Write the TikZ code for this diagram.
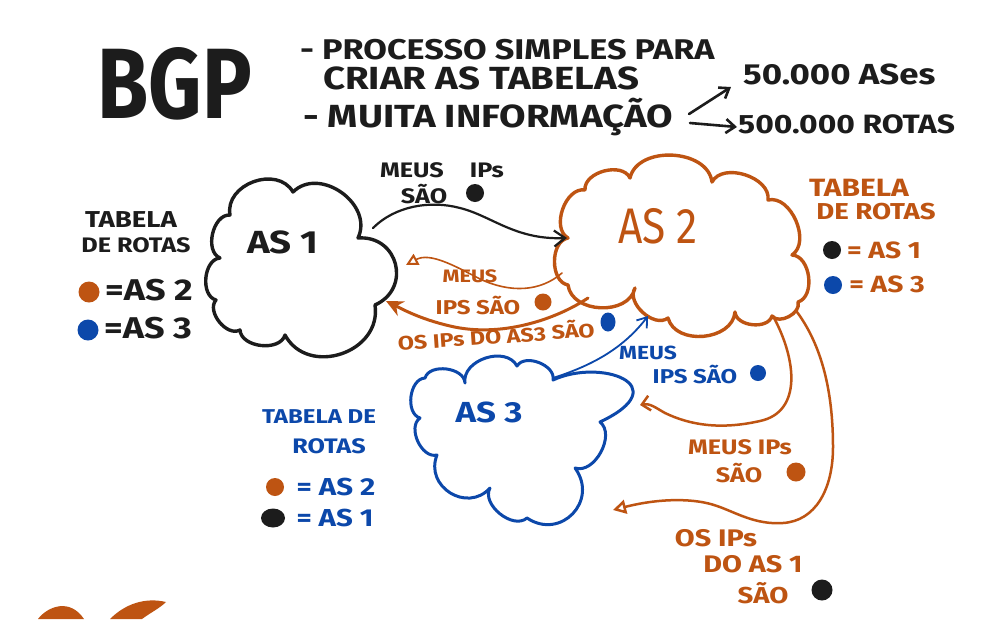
\documentclass[tikz,border=0pt]{standalone}
\usepackage{fontspec}
\setmainfont{Fira Sans}
\newfontfamily\hand[FakeStretch=1.2]{Fira Sans}
\newfontfamily\handn[FakeStretch=0.85]{Fira Sans}
\newfontfamily\handbgp[FakeStretch=0.83]{Fira Sans}
\usetikzlibrary{arrows.meta,shapes.geometric}
\definecolor{cor}{RGB}{190,84,18}
\definecolor{cbl}{RGB}{12,72,170}
\definecolor{cbk}{RGB}{28,28,28}
\newcommand{\hsz}[1]{\fontsize{#1}{#1}\selectfont}
\begin{document}
\begin{tikzpicture}[x=1pt,y=-1pt,
  lab/.style={inner sep=0pt, font=\hand\bfseries\hsz{21}},
  leg/.style={inner sep=0pt, font=\hand\bfseries\hsz{24}},
  head/.style={inner sep=0pt, anchor=west, text=cbk},
  dot/.style={circle, inner sep=0pt, minimum size=17pt},
  cloudline/.style={line width=3.4pt, line join=round, line cap=round},
  conn/.style={line cap=round},
  sc/.style={bend left=80, looseness=#1}, sc/.default=1.1]
\useasboundingbox (0,0) rectangle (987,619);
\fill[white] (0,0) rectangle (987,619);

% ---------- heading ----------
\node[inner sep=0pt, text=cbk, font=\handbgp\bfseries\hsz{100}] (bgp) at (175,84) {BGP};
\node[head, font=\hand\bfseries\hsz{28.5}] (proc) at (300,50) {- PROCESSO SIMPLES PARA};
\node[head, font=\hand\bfseries\hsz{32}] (criar) at (323,78) {CRIAR AS TABELAS};
\node[head, font=\hand\bfseries\hsz{32}] (muita) at (303,117) {- MUITA INFORMAÇÃO};
\node[head, font=\hand\bfseries\hsz{29}] (ases) at (743,74) {50.000 ASes};
\node[head, font=\hand\bfseries\hsz{26.5}] (rotas) at (738,124) {500.000 ROTAS};
\coordinate (h1s) at (689,114);
\coordinate (h1e) at (731,87);
\coordinate (h2s) at (690,123);
\coordinate (h2e) at (737,127);
\draw[cbk, line width=2.6pt, conn, -{Straight Barb[length=9pt,width=13pt]}] (h1s) -- (h1e);
\draw[cbk, line width=2.6pt, conn, -{Straight Barb[length=9pt,width=14pt]}] (h2s) -- (h2e);

% ---------- AS 1 cloud ----------
\draw[cbk, cloudline] (216,300) to[sc=1] (220,258) to[sc=1] (230,215) to[sc=1.2] (293,192)
  to[sc=1.2] (358,238) to[sc=1.5] (375,305) to[sc=1.3] (285,335) to[sc=1] (240,330) to[sc=1] cycle;
\node[inner sep=0pt, text=cbk, font=\hand\bfseries\hsz{32}] (as1) at (283,242) {AS 1};

% ---------- AS 2 cloud ----------
\draw[cor, cloudline] (568,285) to[sc=1] (568,238) to[sc=1] (585,190) to[sc=1] (630,178)
  to[sc=1.05] (712,182) to[sc=1] (768,200) to[sc=1] (792,255) to[sc=1] (798,302)
  to[sc=1] (772,316) to[sc=1] (735,312) to[sc=1.1] (668,318) to[sc=1] (635,288) to[sc=1.1] cycle;
\node[inner sep=0pt, text=cor, font=\handn\hsz{50}] (as2) at (658,226) {AS 2};

% ---------- AS 3 cloud ----------
\draw[cbl, cloudline, line width=3pt] (420,418) to[sc=1] (425,378) to[sc=1] (465,383) to[sc=1.1] (517,366)
  to[sc=1] (553,380) .. controls (600,358) and (678,385) .. (600,422)
  to[sc=1] (575,468) to[sc=1.5] (527,518) to[sc=1] (490,488) to[sc=1.4] (437,455) to[sc=1] cycle;
\node[inner sep=0pt, text=cbl, font=\hand\bfseries\hsz{29}] (as3) at (489,412) {AS 3};

% ---------- connector end points ----------
\coordinate (as1ne) at (373,228);
\coordinate (as2w) at (567,238);
\coordinate (as2w2) at (562,273);
\coordinate (as1e) at (406,265);
\coordinate (as2sw) at (588,298);
\coordinate (as1se) at (386,301);
\coordinate (as3n) at (553,378);
\coordinate (as2s) at (648,316);
\coordinate (as2se) at (773,316);
\coordinate (as3e) at (640,405);
\coordinate (as2se2) at (797,312);
\coordinate (as3se) at (613,510);

% black: AS1 -> AS2
\draw[cbk, line width=2.2pt, conn, -{Straight Barb[length=11pt,width=16pt]}] (as1ne)
  .. controls (395,206) and (430,200) .. (460,208) .. controls (492,216) and (515,240) .. (as2w);
% orange: AS2 -> AS1 (upper)
\draw[cor, line width=1.6pt, conn, -{Triangle[open,length=12pt,width=12pt,line width=2pt]}] (as2w2)
  .. controls (540,292) and (510,293) .. (480,279) .. controls (455,266) and (430,252) .. (as1e);
% orange: AS2 -> AS1 (lower)
\draw[cor, line width=3pt, conn, -{Stealth[length=17pt,width=16pt]}] (as2sw)
  .. controls (555,320) and (500,338) .. (450,326) .. controls (420,319) and (402,309) .. (as1se);
% blue: AS3 -> AS2
\draw[cbl, line width=1.8pt, conn, -{Straight Barb[length=9pt,width=13pt]}] (as3n)
  .. controls (590,366) and (622,350) .. (as2s);
% orange: AS2 -> AS3 (hook)
\draw[cor, line width=2.5pt, conn, -{Straight Barb[length=8pt,width=15pt]}] (as2se)
  .. controls (797,360) and (802,412) .. (760,421) .. controls (720,430) and (690,425) .. (665,413)
  .. controls (656,408) and (650,403) .. (as3e);
% orange: AS2 -> AS3 (long, AS1 routes)
\draw[cor, line width=2.5pt, conn, -{Triangle[open,length=13pt,width=14pt]}] (as2se2)
  .. controls (825,350) and (833,400) .. (833,447) .. controls (833,490) and (815,521) .. (783,523)
  .. controls (755,525) and (735,512) .. (717,506) .. controls (695,498) and (660,498) .. (as3se);

% ---------- connector labels ----------
\node[lab, text=cbk, font=\hand\bfseries\hsz{21}] (l1a) at (442,170) {MEUS\hspace{26pt}IPs};
\node[lab, text=cbk] (l1b) at (424,194) {SÃO};
\node[dot, fill=cbk, minimum size=18pt] (l1d) at (475,193) {};

\node[lab, text=cor, font=\hand\bfseries\hsz{18}] (l2a) at (470,276) {MEUS};
\node[lab, text=cor, font=\hand\bfseries\hsz{20}] (l2b) at (478,305) {IPS SÃO};
\node[dot, fill=cor, minimum size=17pt] (l2d) at (543,302) {};

\node[lab, text=cor, font=\hand\bfseries\hsz{19.5}, rotate=4] (l3) at (496,335) {OS IPs DO AS3 SÃO};
\node[ellipse, fill=cbl, inner sep=0pt, minimum width=15pt, minimum height=19pt] (l3d) at (608,322) {};

\node[lab, text=cbl, font=\hand\bfseries\hsz{19}] (l4a) at (648,353) {MEUS};
\node[lab, text=cbl, font=\hand\bfseries\hsz{20}] (l4b) at (695,374) {IPS SÃO};
\node[dot, fill=cbl, minimum size=16pt] (l4d) at (758,373) {};

\node[lab, text=cor] (l5a) at (740,447) {MEUS IPs};
\node[lab, text=cor] (l5b) at (739,473) {SÃO};
\node[dot, fill=cor, minimum size=19pt] (l5d) at (796,472) {};

\node[lab, text=cor, font=\hand\bfseries\hsz{24}] (l6a) at (716,538) {OS IPs};
\node[lab, text=cor, font=\hand\bfseries\hsz{24}] (l6b) at (753,564) {DO AS 1};
\node[lab, text=cor, font=\hand\bfseries\hsz{23}] (l6c) at (763,593) {SÃO};
\node[dot, fill=cbk, minimum size=21pt] (l6d) at (822,590) {};

% ---------- routing tables ----------
% AS1 (black)
\node[leg, text=cbk, font=\hand\bfseries\hsz{23}] (t1a) at (131,220) {TABELA};
\node[leg, text=cbk, font=\hand\bfseries\hsz{21}] (t1b) at (136,245) {DE ROTAS};
\node[dot, fill=cor, minimum size=21pt] (t1d1) at (89,292) {};
\node[leg, text=cbk, font=\hand\bfseries\hsz{30}] (t1e1) at (149,290) {=AS 2};
\node[dot, fill=cbl, minimum size=21pt] (t1d2) at (88,330) {};
\node[leg, text=cbk, font=\hand\bfseries\hsz{30}] (t1e2) at (148,328) {=AS 3};

% AS2 (orange)
\node[leg, text=cor, font=\hand\bfseries\hsz{25}] (t2a) at (859,188) {TABELA};
\node[leg, text=cor, font=\hand\bfseries\hsz{23}] (t2b) at (876,212) {DE ROTAS};
\node[dot, fill=cbk, minimum size=18pt] (t2d1) at (832,250) {};
\node[leg, text=cor, font=\hand\bfseries\hsz{23.5}] (t2e1) at (884,250) {= AS 1};
\node[dot, fill=cbl, minimum size=18pt] (t2d2) at (833,285) {};
\node[leg, text=cor, font=\hand\bfseries\hsz{23.5}] (t2e2) at (887,284) {= AS 3};

% AS3 (blue)
\node[leg, text=cbl, font=\hand\bfseries\hsz{20}] (t3a) at (319,417) {TABELA DE};
\node[leg, text=cbl, font=\hand\bfseries\hsz{21}] (t3b) at (329,446) {ROTAS};
\node[dot, fill=cor, minimum size=18pt] (t3d1) at (275,487) {};
\node[leg, text=cbl, font=\hand\bfseries\hsz{24.5}] (t3e1) at (336,487) {= AS 2};
\node[ellipse, fill=cbk, inner sep=0pt, minimum width=24pt, minimum height=19pt] (t3d2) at (273,518) {};
\node[leg, text=cbl, font=\hand\bfseries\hsz{24.5}] (t3e2) at (335,518) {= AS 1};

% ---------- partial strokes at the bottom edge ----------
\fill[cor] (38,619) .. controls (48,606) and (70,598) .. (84,619) -- cycle;
\fill[cor] (110,619) .. controls (125,604) and (145,597) .. (166,602) .. controls (160,608) and (150,613) .. (142,619) -- cycle;
\end{tikzpicture}
\end{document}
